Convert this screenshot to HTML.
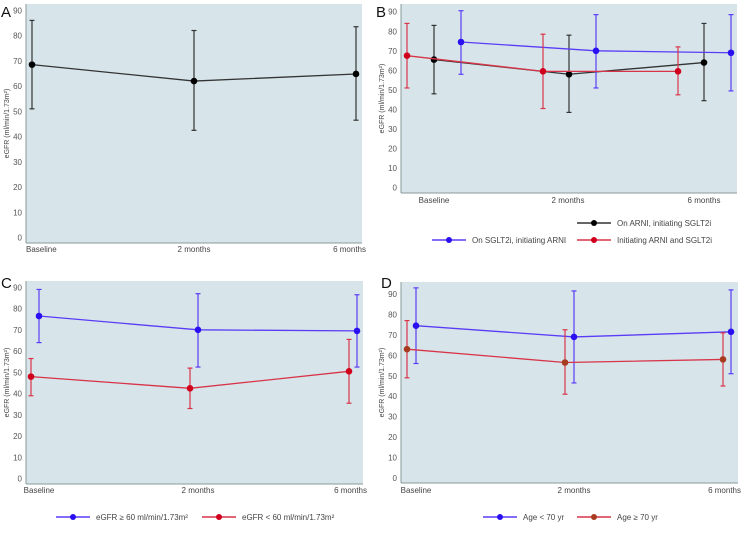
<!DOCTYPE html>
<html><head><meta charset="utf-8">
<style>
body{margin:0;background:#fff;font-family:"Liberation Sans",sans-serif;}
svg text{font-family:"Liberation Sans",sans-serif;}
</style></head>
<body>
<svg id="fig" width="750" height="528" viewBox="0 0 750 528" xmlns="http://www.w3.org/2000/svg"></svg>
<script>
const categories = ["Baseline","2 months","6 months"];
const yTicks = [0,10,20,30,40,50,60,70,80,90];
// Panel A
const aMean = [68.5,62,64.8]; const aHi = [86,82,83.5]; const aLo = [51,42.5,46.5];
// Panel B
const bArniMean = [65.5,58,64]; const bArniHi = [83,78,84]; const bArniLo = [48,38.5,44.5];
const bSglMean = [74.5,70,69]; const bSglHi = [90.5,88.5,88.5]; const bSglLo = [58,51,49.5];
const bBothMean = [67.5,59.5,59.5]; const bBothHi = [84,78.5,72]; const bBothLo = [51,40.5,47.5];
// Panel C
const cHighMean = [76.5,70,69.5]; const cHighHi = [89,87,86.5]; const cHighLo = [64,52.5,52.5];
const cLowMean = [48,42.5,50.5]; const cLowHi = [56.5,52,65.5]; const cLowLo = [39,33,35.5];
// Panel D
const dYoungMean = [74.5,69,71.5]; const dYoungHi = [93,91.5,92]; const dYoungLo = [56,46.5,51];
const dOldMean = [63,56.5,58]; const dOldHi = [77,72.5,71]; const dOldLo = [49,41,45];

const NS="http://www.w3.org/2000/svg";
const svg=document.getElementById('fig');
function mk(tag,attrs,parent){const e=document.createElementNS(NS,tag);for(const k in attrs)e.setAttribute(k,attrs[k]);(parent||svg).appendChild(e);return e;}

function panel(p){
  const g=mk('g',{});
  
  
  const bg=mk('rect',{x:p.x0,y:p.top,width:p.x1-p.x0,height:p.bottom-p.top,fill:'#d7e5eb'},g);
  
  
  mk('line',{x1:p.x0,y1:p.top,x2:p.x0,y2:p.bottom,stroke:'#8a9a9a',"stroke-width":1},g);
  mk('line',{x1:p.x0,y1:p.bottom,x2:p.x1,y2:p.bottom,stroke:'#8a9a9a',"stroke-width":1},g);
  const ys=v=>p.y0-(p.y0-p.y90)*v/90;
  const lab=mk('text',{x:p.lx,y:p.ly,"font-size":15,fill:'#111'},g);lab.textContent=p.id;
  
  
  yTicks.forEach(t=>{const tx=mk('text',{x:p.x0-4,y:ys(t)+3,"font-size":8,fill:'#555',"text-anchor":"end"},g);tx.textContent=t;
    
    });
  const yt=mk('text',{x:0,y:0,"font-size":7,fill:'#444',"text-anchor":"middle",transform:`translate(${p.x0-17},${(p.top+p.bottom)/2}) rotate(-90)`},g);
  yt.textContent='eGFR (ml/min/1.73m²)';
  
  
  categories.forEach((c,i)=>{const tx=mk('text',{x:p.labX[i],y:p.labY,"font-size":8,fill:'#444',"text-anchor":"middle"},g);
    if(i==0&&p.labStart){tx.setAttribute('text-anchor','start');tx.setAttribute('x',p.labX[i]-6);}
    if(i==2&&!p.labMidEnd){tx.setAttribute('text-anchor','end');tx.setAttribute('x',p.labX[i]+10);}
    tx.textContent=c;
    
    });
  p.series.forEach(s=>{
    const sg=mk('g',{},g);
    
    
    const pts=s.mean.map((v,i)=>[s.xs[i],ys(v)]);
    mk('polyline',{points:pts.map(q=>q.join(',')).join(' '),fill:'none',stroke:s.line,"stroke-width":1.3},sg);
    s.mean.forEach((v,i)=>{const x=s.xs[i];
      mk('line',{x1:x,y1:ys(s.hi[i]),x2:x,y2:ys(s.lo[i]),stroke:s.line,"stroke-width":1.2},sg);
      mk('line',{x1:x-2.5,y1:ys(s.hi[i]),x2:x+2.5,y2:ys(s.hi[i]),stroke:s.line,"stroke-width":1.2},sg);
      mk('line',{x1:x-2.5,y1:ys(s.lo[i]),x2:x+2.5,y2:ys(s.lo[i]),stroke:s.line,"stroke-width":1.2},sg);
      const d=mk('circle',{cx:x,cy:ys(v),r:3.3,fill:s.dot},sg);
      
      });
  });
  (p.legend||[]).forEach(L=>{
    const lg=mk('g',{},g);
    
    
    mk('line',{x1:L.x,y1:L.y,x2:L.x+34,y2:L.y,stroke:L.line,"stroke-width":1.5},lg);
    mk('circle',{cx:L.x+17,cy:L.y,r:3,fill:L.dot},lg);
    const t=mk('text',{x:L.x+40,y:L.y+3,"font-size":8,fill:'#444'},lg);t.textContent=L.text;
  });
}
const BLUE='#5a3cf5', BDOT='#2a10f0', RED='#d83448', RDOT='#d0001c', BLK='#333', KDOT='#000', BRN='#a83a20';
panel({id:'A',lx:1,ly:17,x0:26,x1:362,top:4,bottom:243,y0:237.7,y90:10.3,labX:[32,194,356],labY:252,labStart:true,
  series:[{name:'overall',mean:aMean,hi:aHi,lo:aLo,xs:[32,194,356],line:BLK,dot:KDOT}]});
panel({id:'B',lx:376,ly:17,x0:401,x1:737,top:4,bottom:193,y0:187.7,y90:11.7,labX:[434,568,704],labY:203,labMidEnd:true,
  series:[
   {name:'on-arni',mean:bArniMean,hi:bArniHi,lo:bArniLo,xs:[434,569,704],line:BLK,dot:KDOT},
   {name:'on-sglt2i',mean:bSglMean,hi:bSglHi,lo:bSglLo,xs:[461,596,731],line:BLUE,dot:BDOT},
   {name:'initiating-both',mean:bBothMean,hi:bBothHi,lo:bBothLo,xs:[407,543,678],line:RED,dot:RDOT}],
  legend:[{x:577,y:223,line:BLK,dot:KDOT,text:'On ARNI, initiating SGLT2i'},
          {x:432,y:240,line:BLUE,dot:BDOT,text:'On SGLT2i, initiating ARNI'},
          {x:577,y:240,line:RED,dot:RDOT,text:'Initiating ARNI and SGLT2i'}]});
panel({id:'C',lx:1,ly:288,x0:26,x1:363,top:281,bottom:484,y0:478.7,y90:287.3,labX:[39,198,357],labY:493,
  series:[
   {name:'egfr-high',mean:cHighMean,hi:cHighHi,lo:cHighLo,xs:[39,198,357],line:BLUE,dot:BDOT},
   {name:'egfr-low',mean:cLowMean,hi:cLowHi,lo:cLowLo,xs:[31,190,349],line:RED,dot:RDOT}],
  legend:[{x:56,y:517,line:BLUE,dot:BDOT,text:'eGFR ≥ 60 ml/min/1.73m²'},
          {x:202,y:517,line:RED,dot:RDOT,text:'eGFR < 60 ml/min/1.73m²'}]});
panel({id:'D',lx:381,ly:288,x0:401,x1:738,top:282,bottom:483,y0:478,y90:294,labX:[416,574,731],labY:493,
  series:[
   {name:'age-under-70',mean:dYoungMean,hi:dYoungHi,lo:dYoungLo,xs:[416,574,731],line:BLUE,dot:BDOT},
   {name:'age-70-plus',mean:dOldMean,hi:dOldHi,lo:dOldLo,xs:[407,565,723],line:RED,dot:BRN}],
  legend:[{x:483,y:517,line:BLUE,dot:BDOT,text:'Age < 70 yr'},
          {x:577,y:517,line:RED,dot:BRN,text:'Age ≥ 70 yr'}]});
</script>
</body></html>
